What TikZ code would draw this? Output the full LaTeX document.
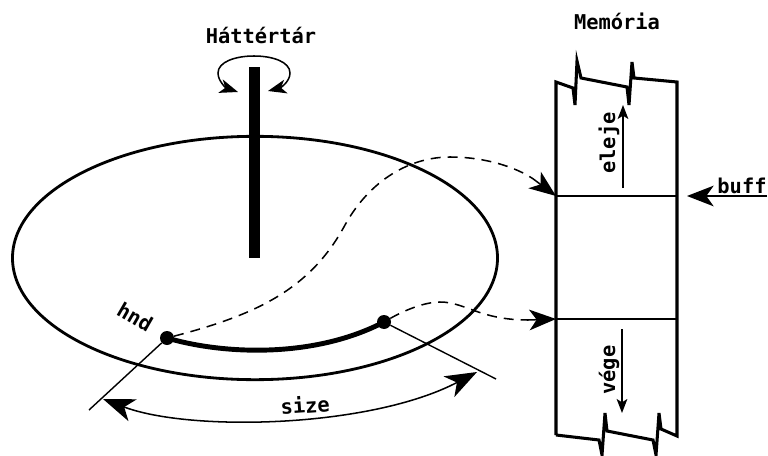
\documentclass[tikz,border=0pt]{standalone}
\usepackage{fontspec}
\setmonofont{DejaVu Sans Mono}
\usetikzlibrary{arrows.meta,shapes.geometric}
\begin{document}
\begin{tikzpicture}[
  x=0.03cm, y=-0.03cm,
  disk/.style={draw, ellipse, line width=2.4pt, minimum width=14.55cm, minimum height=7.3cm, inner sep=0pt},
  spindle/.style={fill=black, minimum width=0.33cm, minimum height=5.73cm, inner sep=0pt},
  dot/.style={circle, fill=black, minimum size=0.42cm, inner sep=0pt},
  txt/.style={font=\ttfamily\bfseries\fontsize{17.4}{20}\selectfont, inner sep=0pt},
  dashline/.style={dash pattern=on 8.5pt off 6pt, line width=1.3pt},
  bigarrow/.style={-{Stealth[length=0.8cm, width=0.62cm, inset=0.22cm]}},
  midarrow/.style={{Stealth[length=0.55cm, width=0.42cm, inset=0.15cm]}-{Stealth[length=0.55cm, width=0.42cm, inset=0.15cm]}},
  memwall/.style={line width=2.6pt, line join=miter}
]
\useasboundingbox (0,0) rectangle (768,455);
\node[disk] (disk) at (255,258) {};
\node[spindle] (spindle) at (254,162.5) {};
\node[txt] (hatter) at (261,35) {Háttértár};
\node[txt] (memoria) at (617,21) {Memória};
\node[dot] (hnd) at (167,338) {};
\node[dot] (end) at (384,322) {};
\node[txt, rotate=-30] (hndlabel) at (135,317) {hnd};
\node[txt, rotate=4] (sizelabel) at (305,405) {size};
\node[txt, rotate=90] (elejelabel) at (609,143) {eleje};
\node[txt, rotate=90] (vegelabel) at (609,370) {vége};
\node[txt] (bufflabel) at (742,186) {buff};
% memoria
\coordinate (tl) at (556,82);
\coordinate (tr) at (677,82);
\coordinate (bl) at (556,435);
\coordinate (br) at (677,436);
\coordinate (buffl) at (556,196);
\coordinate (buffr) at (677,196);
\coordinate (endl) at (556,319);
\coordinate (endr) at (677,319);
\draw[memwall] (bl) -- (tl) -- (573,88) -- (575,105) -- (577,61) -- (581,78) -- (627,87) -- (629,105) -- (632,62) -- (634,78) -- (tr) -- (br)
  -- (661,429) -- (659,413) -- (656,455) -- (653,440) -- (607,431) -- (605,413) -- (602,455) -- (599,440) -- (bl);
\draw[line width=1.4pt] (buffl) -- (buffr);
\draw[line width=1.4pt] (endl) -- (endr);
% forgas
\coordinate (rotl) at (238,92);
\coordinate (rotr) at (268,91);
\draw[midarrow, line width=1.3pt] (rotl) .. controls (226,88) and (218,81) .. (218,73) .. controls (218,62) and (235,56) .. (254,56) .. controls (273,56) and (290,62) .. (290,73) .. controls (290,82) and (280,88) .. (rotr);
% lemez
\draw[line width=4.2pt] (hnd.center) .. controls (225,355) and (315,358) .. (end.center);
\draw[dashline] (hnd) .. controls (255,315) and (310,290) .. (345,225) .. controls (370,180) and (410,157) .. (450,157) .. controls (490,157) and (522,170) .. (536,181);
\draw[bigarrow, line width=1.3pt] (536,181) -- (buffl);
\draw[dashline] (end) .. controls (405,310) and (425,302) .. (440,302) .. controls (465,302) and (480,320) .. (528,320);
\draw[bigarrow, line width=1.3pt] (528,320) -- (endl);
% size
\coordinate (tickl) at (89,410);
\coordinate (tickr) at (496,379);
\coordinate (sizel) at (103,399);
\coordinate (sizer) at (477,372);
\draw[line width=1.2pt] (hnd) -- (tickl);
\draw[line width=1.2pt] (end) -- (tickr);
\draw[{Stealth[length=0.95cm, width=0.7cm, inset=0.27cm]}-{Stealth[length=0.95cm, width=0.7cm, inset=0.27cm]}, line width=1.3pt] (sizel) .. controls (190,432) and (370,428) .. (sizer);
% nyilak
\coordinate (elejea) at (623,188);
\coordinate (elejeb) at (623,105);
\coordinate (vegea) at (622,329);
\coordinate (vegeb) at (622,413);
\coordinate (buffa) at (767,196);
\coordinate (buffb) at (687,196);
\draw[-{Stealth[length=0.42cm, width=0.32cm, inset=0.1cm]}, line width=1.2pt] (elejea) -- (elejeb);
\draw[-{Stealth[length=0.42cm, width=0.32cm, inset=0.1cm]}, line width=1.2pt] (vegea) -- (vegeb);
\draw[bigarrow, line width=1.3pt] (buffa) -- (buffb);
\end{tikzpicture}
\end{document}
